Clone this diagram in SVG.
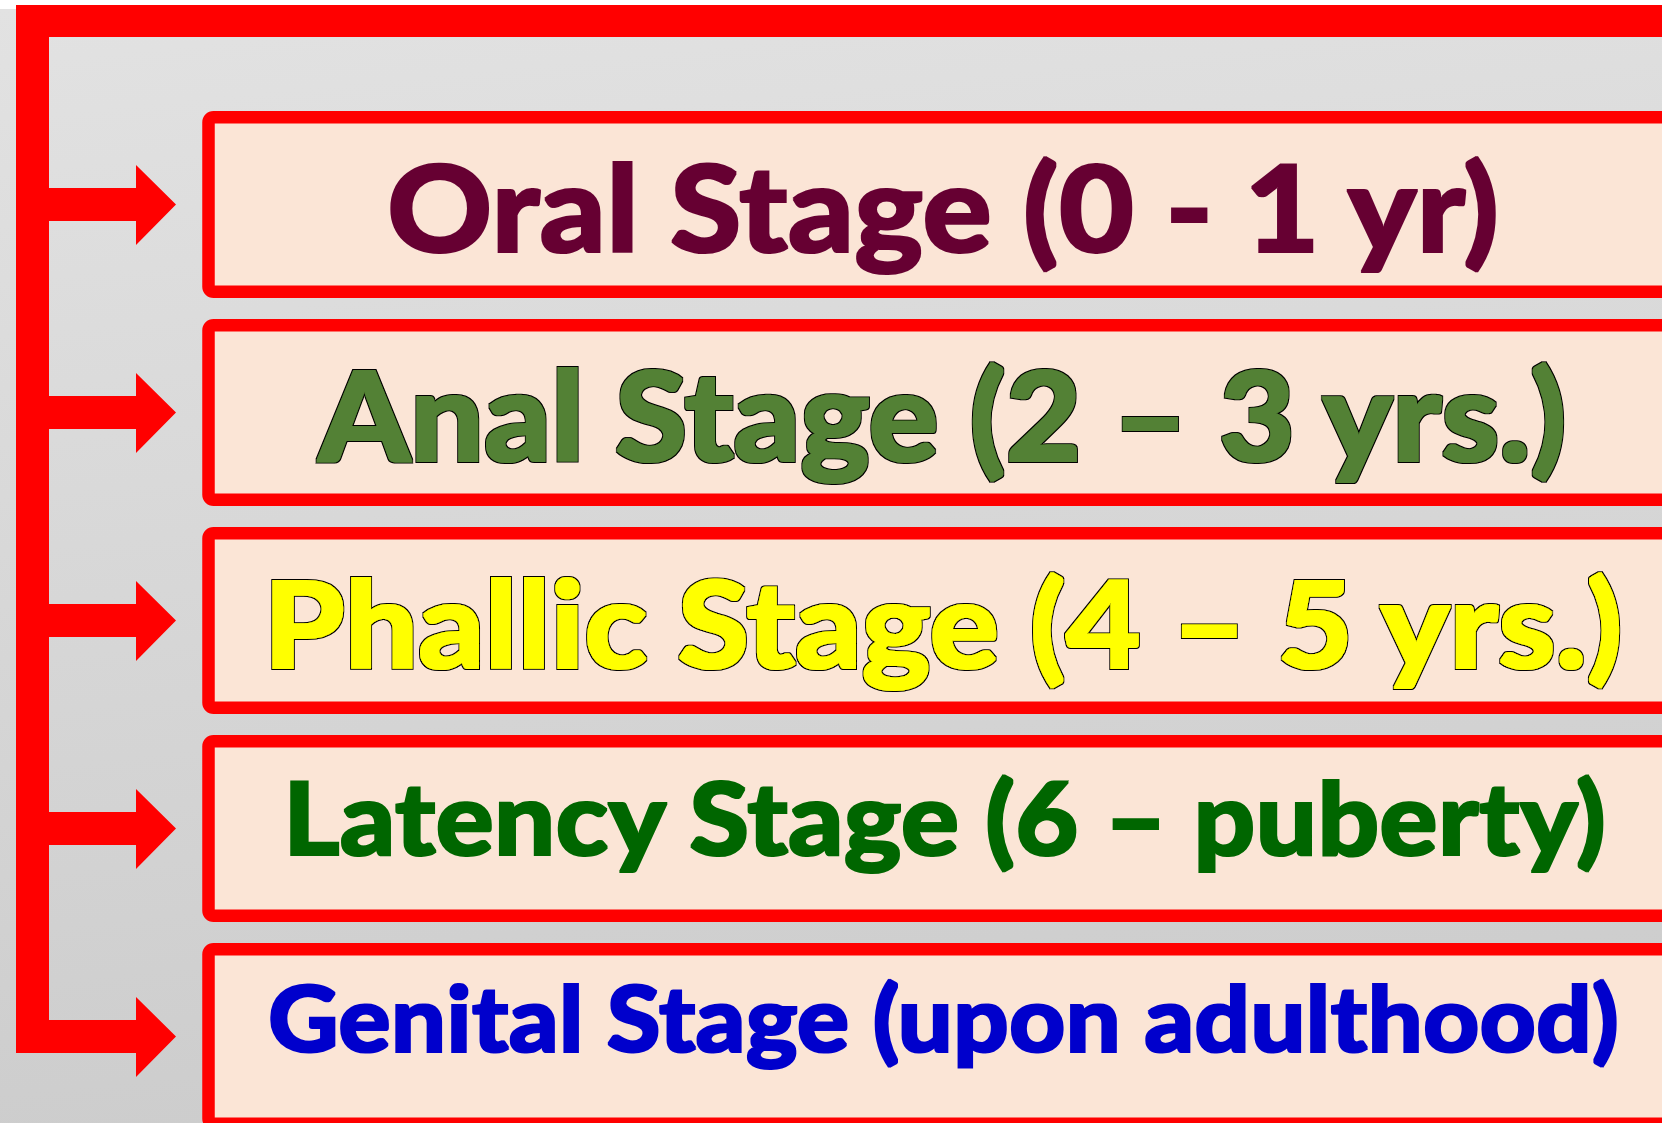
<svg xmlns="http://www.w3.org/2000/svg" width="1662" height="1123" viewBox="0 0 1662 1123">
<style>
.box{fill:#FBE5D6;stroke:#FF0000;stroke-width:12.5}
.lbl{font-family:"Lato","Liberation Sans",sans-serif;font-weight:900;text-anchor:middle}
.heavy{filter:url(#heavy)}
.ol{filter:url(#outline)}
.conn{fill:#FF0000}
</style>
<defs>
<linearGradient id="bg" x1="0" y1="0" x2="0.15" y2="1">
<stop offset="0" stop-color="#e2e2e2"/>
<stop offset="1" stop-color="#cdcdcd"/>
</linearGradient>
<filter id="heavy" x="-5%" y="-20%" width="110%" height="140%">
<feMorphology in="SourceGraphic" operator="dilate" radius="0.8"/>
</filter>
<filter id="outline" x="-5%" y="-20%" width="110%" height="140%">
<feMorphology in="SourceGraphic" operator="dilate" radius="0.6" result="thick"/>
<feMorphology in="SourceAlpha" operator="dilate" radius="2.2" result="outer"/>
<feFlood flood-color="#000000" result="blk"/>
<feComposite in="blk" in2="outer" operator="in" result="blackOuter"/>
<feMerge>
<feMergeNode in="blackOuter"/>
<feMergeNode in="thick"/>
</feMerge>
</filter>
</defs>
<rect x="0" y="0" width="1662" height="1123" fill="#ffffff"/>
<rect x="0" y="9" width="1662" height="1114" fill="url(#bg)"/>
<g id="connectors">
<path class="conn" d="M16,5 H1662 V37 H49 V1053 H16 Z"/>
<polygon class="conn" points="49,188 136,188 136,165 176,204.5 136,245 136,221 49,221"/>
<polygon class="conn" points="49,396 136,396 136,373 176,412.5 136,453 136,429 49,429"/>
<polygon class="conn" points="49,604 136,604 136,581 176,620.5 136,661 136,637 49,637"/>
<polygon class="conn" points="49,812 136,812 136,789 176,828.5 136,869 136,845 49,845"/>
<polygon class="conn" points="49,1020 136,1020 136,997 176,1036.5 136,1077 136,1053 49,1053"/>
</g>
<g id="oral">
<rect class="box" x="208.5" y="117.25" width="1500" height="174.5" rx="5"/>
<text class="lbl heavy" x="943" y="252" font-size="121" fill="#660033" textLength="1112" lengthAdjust="spacingAndGlyphs">Oral Stage (0 - 1 yr)</text>
</g>
<g id="anal">
<rect class="box" x="208.5" y="325.25" width="1500" height="174.5" rx="5"/>
<text class="lbl ol" x="942.5" y="461" font-size="123" fill="#538135" textLength="1248" lengthAdjust="spacingAndGlyphs">Anal Stage (2 – 3 yrs.)</text>
</g>
<g id="phallic">
<rect class="box" x="208.5" y="533.25" width="1500" height="174.5" rx="5"/>
<text class="lbl ol" x="943" y="668" font-size="121" fill="#FFFF00" textLength="1359" lengthAdjust="spacingAndGlyphs">Phallic Stage (4 – 5 yrs.)</text>
</g>
<g id="latency">
<rect class="box" x="208.5" y="741.25" width="1500" height="174.5" rx="5"/>
<text class="lbl heavy" x="944.5" y="855" font-size="101" fill="#006600" textLength="1323" lengthAdjust="spacingAndGlyphs">Latency Stage (6 – puberty)</text>
</g>
<g id="genital">
<rect class="box" x="208.5" y="949.25" width="1500" height="174.5" rx="5"/>
<text class="lbl heavy" x="943.5" y="1052" font-size="91" fill="#0000CC" textLength="1351" lengthAdjust="spacingAndGlyphs">Genital Stage (upon adulthood)</text>
</g>
</svg>
